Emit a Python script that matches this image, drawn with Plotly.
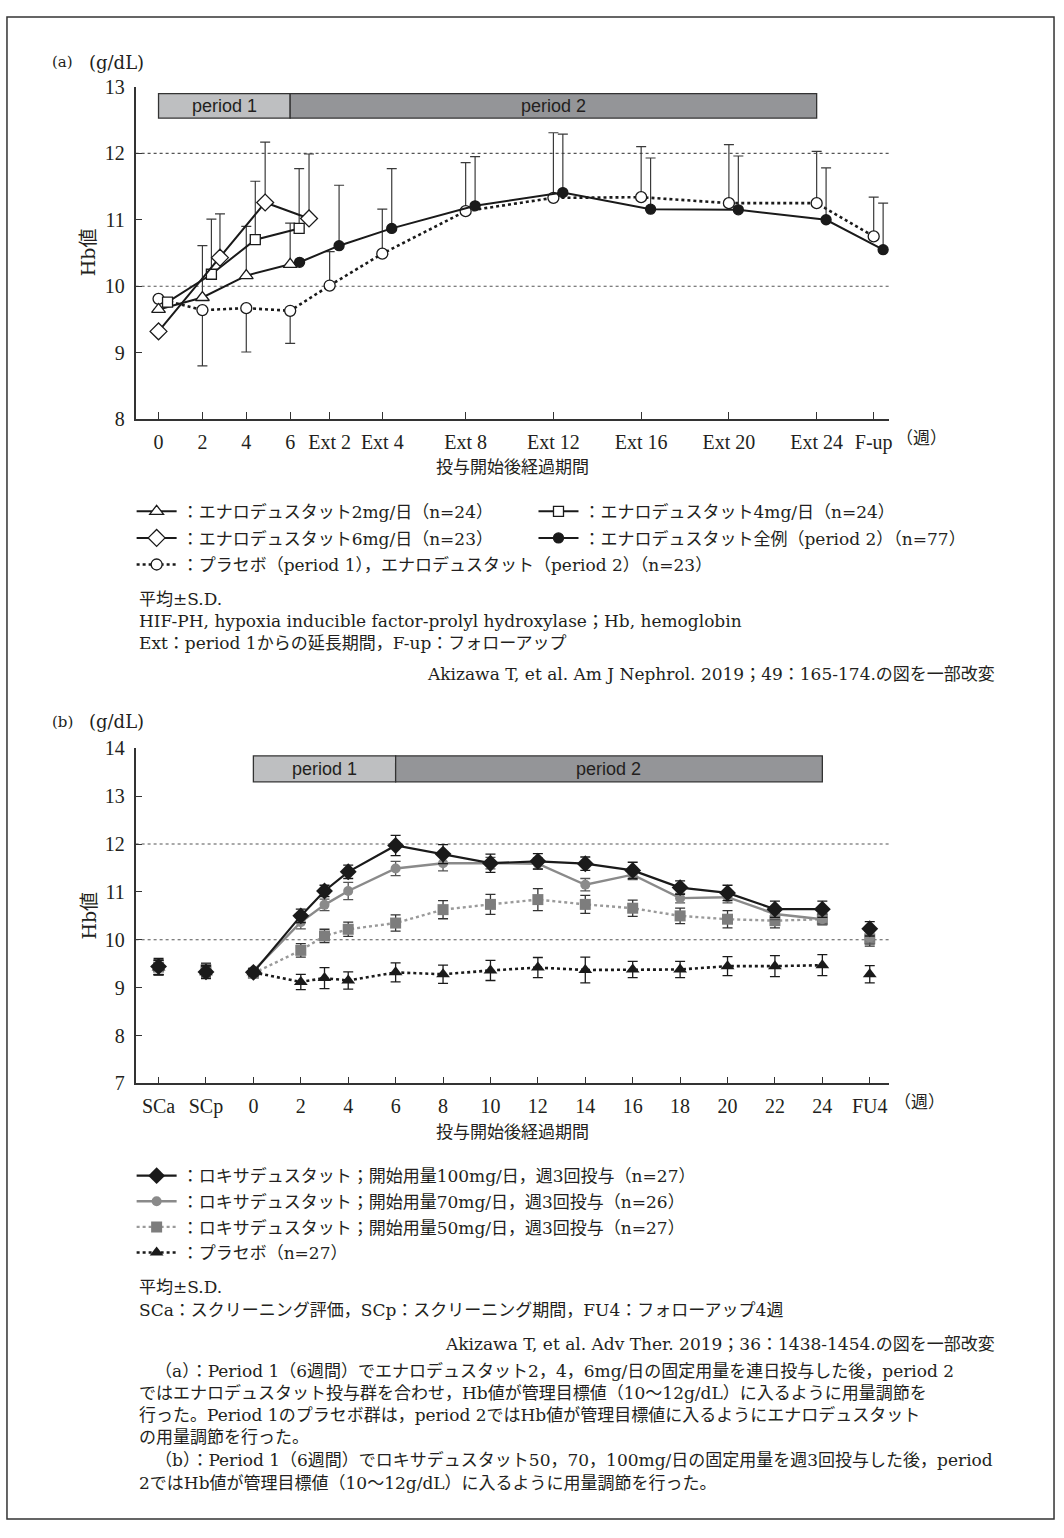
import plotly.graph_objects as go

# ---------------- Panel (a) data ----------------
A_CATS = ["0", "2", "4", "6", "Ext 2", "Ext 4", "Ext 8", "Ext 12", "Ext 16", "Ext 20", "Ext 24", "F-up"]
A_2MG = [9.65, 9.83, 10.16, 10.33]
A_2MG_SD = [0, 0.78, 0.74, 0.62]
A_4MG = [9.76, 10.18, 10.70, 10.87]
A_4MG_SD = [0, 0.83, 0.88, 0.90]
A_6MG = [9.32, 10.43, 11.26, 11.02]
A_6MG_SD = [0, 0.66, 0.91, 0.97]
A_ALL = [10.36, 10.61, 10.87, 11.21, 11.41, 11.16, 11.15, 11.00, 10.55]      # "6" .. "F-up"
A_ALL_SD = [0, 0.91, 0.90, 0.74, 0.88, 0.77, 0.81, 0.78, 0.70]
A_PLA = [9.81, 9.64, 9.67, 9.63, 10.01, 10.49, 11.13, 11.33, 11.34, 11.25, 11.25, 10.75]
A_PLA_SD = [0, 0.84, 0.66, 0.49, 0.51, 0.67, 0.73, 0.98, 0.76, 0.88, 0.78, 0.59]

# ---------------- Panel (b) data ----------------
B_CATS = ["SCa", "SCp", "0", "2", "4", "6", "8", "10", "12", "14", "16", "18", "20", "22", "24", "FU4"]
B_WEEKS = [0, 2, 3, 4, 6, 8, 10, 12, 14, 16, 18, 20, 22, 24]
B_100 = [9.32, 10.50, 11.02, 11.42, 11.97, 11.79, 11.60, 11.64, 11.59, 11.45, 11.09, 10.98, 10.64, 10.64]
B_100_SD = [0.08, 0.14, 0.12, 0.14, 0.21, 0.20, 0.19, 0.16, 0.14, 0.17, 0.14, 0.16, 0.17, 0.17]
B_100_SC = [9.44, 9.33]
B_100_SC_SD = [0.17, 0.13]
B_100_FU4, B_100_FU4_SD = 10.23, 0.15
B_70 = [9.35, 10.37, 10.73, 11.02, 11.49, 11.60, 11.60, 11.59, 11.15, 11.36, 10.87, 10.89, 10.54, 10.43]
B_70_SD = [0.06, 0.14, 0.12, 0.18, 0.15, 0.16, 0.12, 0.12, 0.13, 0.10, 0.10, 0.12, 0.12, 0.10]
B_70_SC = [9.42, 9.36]
B_70_SC_SD = [0.15, 0.13]
B_70_FU4, B_70_FU4_SD = 10.05, 0.14
B_50 = [9.30, 9.78, 10.08, 10.22, 10.35, 10.63, 10.74, 10.84, 10.74, 10.66, 10.50, 10.43, 10.40, 10.43]
B_50_SD = [0.06, 0.14, 0.14, 0.15, 0.17, 0.19, 0.21, 0.23, 0.19, 0.17, 0.16, 0.18, 0.15, 0.12]
B_50_SC = [9.43, 9.37]
B_50_SC_SD = [0.15, 0.14]
B_50_FU4, B_50_FU4_SD = 10.02, 0.15
B_PLA = [9.32, 9.12, 9.20, 9.15, 9.32, 9.28, 9.36, 9.42, 9.37, 9.38, 9.38, 9.45, 9.45, 9.47]
B_PLA_SD = [0.06, 0.16, 0.22, 0.18, 0.20, 0.19, 0.21, 0.21, 0.27, 0.17, 0.17, 0.20, 0.22, 0.22]
B_PLA_SC = [9.42, 9.32]
B_PLA_SC_SD = [0.15, 0.13]
B_PLA_FU4, B_PLA_FU4_SD = 9.28, 0.18

# ---------------- layout helpers ----------------
W, H = 1064, 1538
A_TICK_POS = [0, 2, 4, 6, 7.8, 10.2, 14, 18, 22, 26, 30, 32.6]   # axis position of each (a) category
TXT = "#231f20"
BLK = "#1a1a1a"
GRY = "#8a8a8a"
SERIF = "DejaVu Serif, Noto Sans CJK JP, sans-serif"
TICKSERIF = "Liberation Serif, Times New Roman, serif"
SANS = "Liberation Sans, Arial, sans-serif"
FS = 17


def px(x):
    return x / W


def py(y):
    return 1 - y / H


fig = go.Figure()


def a_trace(vals, sds, start, dodge, name, legend, symbol, size, fill, dash="solid",
            lw=2.0, down_mask=None):
    xs, up, dn = [], [], []
    for k, v in enumerate(vals):
        i = start + k
        d = dodge[k] if isinstance(dodge, list) else dodge
        xs.append(A_TICK_POS[i] + d)
        sd = sds[k]
        if down_mask is not None and down_mask(i):
            up.append(0)
            dn.append(sd)
        else:
            up.append(sd)
            dn.append(0)
    fig.add_trace(go.Scatter(
        x=xs, y=vals, mode="lines+markers", name=name, legend=legend,
        xaxis="x", yaxis="y",
        line=dict(color=BLK, width=lw, dash=dash),
        marker=dict(symbol=symbol, size=size, color=fill, line=dict(color=BLK, width=1.3)),
        error_y=dict(type="data", symmetric=False, array=up, arrayminus=dn,
                     color="#3a3a3a", thickness=1.2, width=5),
        cliponaxis=False,
    ))


# drawing order: placebo first
a_trace(A_PLA, A_PLA_SD, 0, 0, "：プラセボ（period 1），エナロデュスタット（period 2）（n=23）", "legend5",
        "circle", 11, "white", dash="dot", lw=2.6, down_mask=lambda i: i <= 3)
a_trace(A_2MG, A_2MG_SD, 0, 0, "：エナロデュスタット2mg/日（n=24）", "legend",
        "triangle-up", 12, "white")
a_trace(A_4MG, A_4MG_SD, 0, 0.41, "：エナロデュスタット4mg/日（n=24）", "legend2",
        "square", 10, "white")
a_trace(A_6MG, A_6MG_SD, 0, [0, 0.8, 0.86, 0.86], "：エナロデュスタット6mg/日（n=23）", "legend3",
        "diamond", 13, "white")
a_trace(A_ALL, A_ALL_SD, 3, 0.43, "：エナロデュスタット全例（period 2）（n=77）", "legend4",
        "circle", 10, BLK)


# ---------------- Panel (b) traces ----------------
def b_pos(week):
    return 2 + week / 2


def b_trace(vals, sds, sc, sc_sd, fu, fu_sd, name, legend, symbol, size, color, lcolor,
            dash, lw, ecolor):
    xs = [0, None, 1, None] + [b_pos(w) for w in B_WEEKS] + [None, 15]
    ys = [sc[0], None, sc[1], None] + list(vals) + [None, fu]
    es = [sc_sd[0], 0, sc_sd[1], 0] + list(sds) + [0, fu_sd]
    fig.add_trace(go.Scatter(
        x=xs, y=ys, mode="lines+markers", name=name, legend=legend,
        xaxis="x2", yaxis="y2", connectgaps=False,
        line=dict(color=lcolor, width=lw, dash=dash),
        marker=dict(symbol=symbol, size=size, color=color, line=dict(width=0)),
        error_y=dict(type="data", array=es, color=ecolor, thickness=1.3, width=5),
        cliponaxis=False,
    ))


b_trace(B_50, B_50_SD, B_50_SC, B_50_SC_SD, B_50_FU4, B_50_FU4_SD,
        "：ロキサデュスタット；開始用量50mg/日，週3回投与（n=27）", "legend8",
        "square", 11, "#7d7d7d", "#9a9a9a", "dot", 2.4, "#333333")
b_trace(B_70, B_70_SD, B_70_SC, B_70_SC_SD, B_70_FU4, B_70_FU4_SD,
        "：ロキサデュスタット；開始用量70mg/日，週3回投与（n=26）", "legend7",
        "circle", 10, GRY, GRY, "solid", 2.4, "#555555")
b_trace(B_PLA, B_PLA_SD, B_PLA_SC, B_PLA_SC_SD, B_PLA_FU4, B_PLA_FU4_SD,
        "：プラセボ（n=27）", "legend9",
        "triangle-up", 12, BLK, BLK, "dot", 2.6, BLK)
b_trace(B_100, B_100_SD, B_100_SC, B_100_SC_SD, B_100_FU4, B_100_FU4_SD,
        "：ロキサデュスタット；開始用量100mg/日，週3回投与（n=27）", "legend6",
        "diamond", 13, BLK, BLK, "solid", 2.2, BLK)

# ---------------- axes ----------------
axis_common = dict(
    showline=True, linecolor="#333333", linewidth=1.5, showgrid=False, zeroline=False,
    ticks="inside", ticklen=7, tickwidth=1.3, tickcolor="#333333", tickangle=0,
    tickfont=dict(family=TICKSERIF, size=20, color=TXT),
)
fig.update_layout(
    xaxis=dict(domain=[px(136), px(892)], range=[-1.045, 33.32], tickmode="array",
               tickvals=A_TICK_POS, ticktext=A_CATS, anchor="y", ticklabelstandoff=4, **axis_common),
    yaxis=dict(domain=[py(414), py(77)], range=[8, 13], dtick=1, tick0=8, anchor="x",
               ticklabelstandoff=5, **axis_common),
    xaxis2=dict(domain=[px(136), px(892)], range=[-0.484, 15.416], tickmode="array",
                tickvals=list(range(len(B_CATS))), ticktext=B_CATS, anchor="y2",
                ticklabelstandoff=4, **axis_common),
    yaxis2=dict(domain=[py(1088), py(748)], range=[7, 14], dtick=1, tick0=7, anchor="x2",
                ticklabelstandoff=5, **axis_common),
)

# ---------------- shapes ----------------
shapes = []
# outer frame
shapes.append(dict(type="rect", xref="paper", yref="paper", x0=px(7), x1=px(1057), y0=py(1530), y1=py(6),
                   line=dict(color="#333333", width=1.5), fillcolor="rgba(0,0,0,0)", layer="below"))
for xr, yr in (("x domain", "y"), ("x2 domain", "y2")):
    for lvl in (10, 12):
        shapes.append(dict(type="line", xref=xr, yref=yr, x0=0, x1=1, y0=lvl, y1=lvl,
                           line=dict(color="#555555", width=1.1, dash="dot"), layer="below"))
# period bars (a)
shapes.append(dict(type="rect", xref="x", yref="y", x0=A_TICK_POS[0], x1=A_TICK_POS[3], y0=12.53, y1=12.9,
                   fillcolor="#bebfc1", line=dict(color="#333333", width=1.3)))
shapes.append(dict(type="rect", xref="x", yref="y", x0=A_TICK_POS[3], x1=A_TICK_POS[10], y0=12.53, y1=12.9,
                   fillcolor="#949598", line=dict(color="#333333", width=1.3)))
# period bars (b)
shapes.append(dict(type="rect", xref="x2", yref="y2", x0=b_pos(0), x1=b_pos(6), y0=13.3, y1=13.84,
                   fillcolor="#bebfc1", line=dict(color="#333333", width=1.3)))
shapes.append(dict(type="rect", xref="x2", yref="y2", x0=b_pos(6), x1=b_pos(24), y0=13.3, y1=13.84,
                   fillcolor="#949598", line=dict(color="#333333", width=1.3)))

# ---------------- annotations ----------------
ann = []


def text(x, y, s, size=FS, xanchor="left", family=SERIF, angle=0, xref="paper", yref="paper"):
    ann.append(dict(x=x, y=y, xref=xref, yref=yref, text=s, showarrow=False, xanchor=xanchor,
                    yanchor="middle", textangle=angle, font=dict(family=family, size=size, color=TXT)))


# period labels
text((A_TICK_POS[0] + A_TICK_POS[3]) / 2, 12.715, "period 1", 18, "center", SANS, xref="x", yref="y")
text((A_TICK_POS[3] + A_TICK_POS[10]) / 2, 12.715, "period 2", 18, "center", SANS, xref="x", yref="y")
text((b_pos(0) + b_pos(6)) / 2, 13.57, "period 1", 18, "center", SANS, xref="x2", yref="y2")
text((b_pos(6) + b_pos(24)) / 2, 13.57, "period 2", 18, "center", SANS, xref="x2", yref="y2")

# panel (a) texts
text(px(50), py(52), "(a)", 15)
text(px(87), py(52), "(g/dL)", 18)
text(px(89), py(245), "Hb値", 19, "center", angle=-90)
text(px(514), py(463), "投与開始後経過期間", 17, "center")
text(px(897), py(433), "（週）", 17)
text(px(137), py(597), "平均±S.D.")
text(px(137), py(619), "HIF-PH, hypoxia inducible factor-prolyl hydroxylase；Hb, hemoglobin")
text(px(137), py(641), "Ext：period 1からの延長期間，F-up：フォローアップ")
text(px(1000), py(673), "Akizawa T, et al. Am J Nephrol. 2019；49：165-174.の図を一部改変", FS, "right")

# panel (b) texts
text(px(50), py(721), "(b)", 15)
text(px(87), py(721), "(g/dL)", 18)
text(px(89), py(918), "Hb値", 19, "center", angle=-90)
text(px(514), py(1137), "投与開始後経過期間", 17, "center")
text(px(895), py(1107), "（週）", 17)
text(px(137), py(1295), "平均±S.D.")
text(px(137), py(1318), "SCa：スクリーニング評価，SCp：スクリーニング期間，FU4：フォローアップ4週")
text(px(1000), py(1352), "Akizawa T, et al. Adv Ther. 2019；36：1438-1454.の図を一部改変", FS, "right")

# footnote paragraph
PARA = [
    (153, 1380, "（a）：Period 1（6週間）でエナロデュスタット2，4，6mg/日の固定用量を連日投与した後，period 2"),
    (137, 1402, "ではエナロデュスタット投与群を合わせ，Hb値が管理目標値（10～12g/dL）に入るように用量調節を"),
    (137, 1424, "行った。Period 1のプラセボ群は，period 2ではHb値が管理目標値に入るようにエナロデュスタット"),
    (137, 1447, "の用量調節を行った。"),
    (153, 1470, "（b）：Period 1（6週間）でロキサデュスタット50，70，100mg/日の固定用量を週3回投与した後，period"),
    (137, 1493, "2ではHb値が管理目標値（10～12g/dL）に入るように用量調節を行った。"),
]
for x0, y0, s in PARA:
    text(px(x0), py(y0), s)

# ---------------- legends ----------------
LEG_POS = {
    "legend": (137, 508), "legend2": (540, 508),
    "legend3": (137, 535), "legend4": (540, 535),
    "legend5": (137, 562),
    "legend6": (137, 1182), "legend7": (137, 1208), "legend8": (137, 1234), "legend9": (137, 1260),
}
legends = {}
for key, (lx, ly) in LEG_POS.items():
    legends[key] = dict(x=px(lx - 5), y=py(ly), xanchor="left", yanchor="middle",
                        bgcolor="rgba(0,0,0,0)", borderwidth=0, itemwidth=40,
                        font=dict(family=SERIF, size=FS, color=TXT))

fig.update_layout(
    width=W, height=H, margin=dict(l=0, r=0, t=0, b=0),
    paper_bgcolor="white", plot_bgcolor="white",
    shapes=shapes, annotations=ann, showlegend=True,
    **legends,
)

fig.write_html("out.html")
